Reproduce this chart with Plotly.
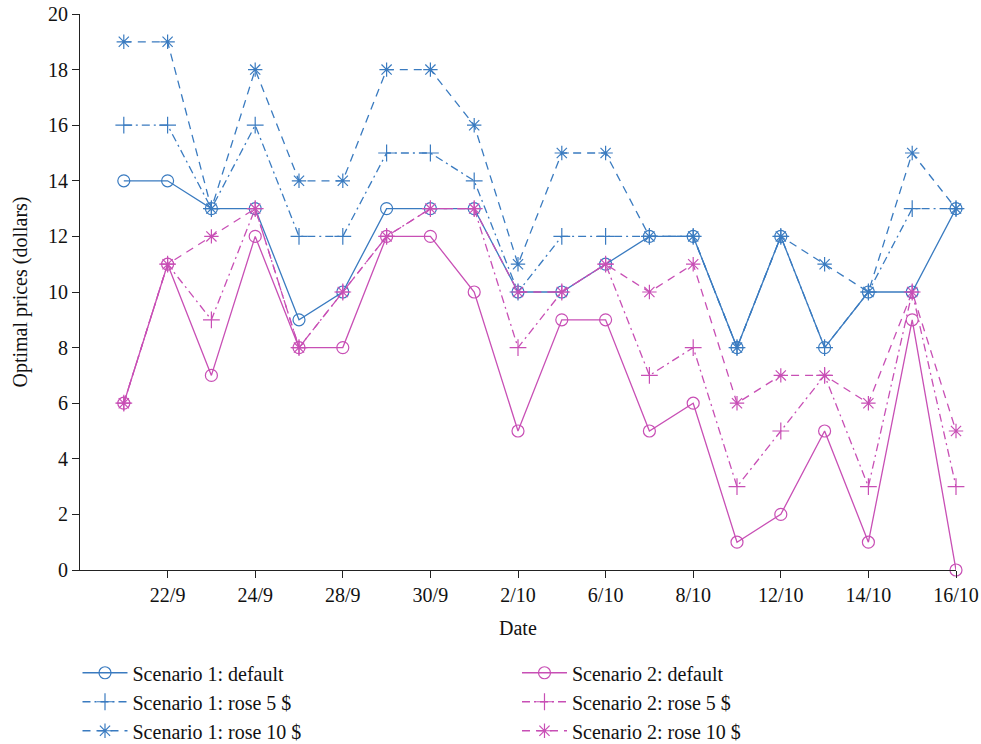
import plotly.graph_objects as go

# Dates (one observation per day shown on the x axis; every other date labelled)
positions = list(range(1, 21))
tick_positions = [2, 4, 6, 8, 10, 12, 14, 16, 18, 20]
tick_labels = ["22/9", "24/9", "28/9", "30/9", "2/10", "6/10", "8/10", "12/10", "14/10", "16/10"]

# Optimal prices (dollars)
s1_default = [14, 14, 13, 13, 9, 10, 13, 13, 13, 10, 10, 11, 12, 12, 8, 12, 8, 10, 10, 13]
s1_rose5 = [16, 16, 13, 16, 12, 12, 15, 15, 14, 10, 12, 12, 12, 12, 8, 12, 8, 10, 13, 13]
s1_rose10 = [19, 19, 13, 18, 14, 14, 18, 18, 16, 11, 15, 15, 12, 12, 8, 12, 11, 10, 15, 13]
s2_default = [6, 11, 7, 12, 8, 8, 12, 12, 10, 5, 9, 9, 5, 6, 1, 2, 5, 1, 9, 0]
s2_rose5 = [6, 11, 9, 13, 8, 10, 12, 13, 13, 8, 10, 11, 7, 8, 3, 5, 7, 3, 10, 3]
s2_rose10 = [6, 11, 12, 13, 8, 10, 12, 13, 13, 10, 10, 11, 10, 11, 6, 7, 7, 6, 10, 5]

BLUE = "#3a7bc0"
MAGENTA = "#c84fb5"
FONT = "Liberation Serif"
SIZE = 20
TEXT = "#111"

series = [
    ("Scenario 1: default", s1_default, BLUE, "solid", "circle-open", "legend"),
    ("Scenario 1: rose 5 $", s1_rose5, BLUE, "8px,4px,2px,4px", "cross-thin-open", "legend"),
    ("Scenario 1: rose 10 $", s1_rose10, BLUE, "8px,6px", "asterisk-open", "legend"),
    ("Scenario 2: default", s2_default, MAGENTA, "solid", "circle-open", "legend2"),
    ("Scenario 2: rose 5 $", s2_rose5, MAGENTA, "8px,4px,2px,4px", "cross-thin-open", "legend2"),
    ("Scenario 2: rose 10 $", s2_rose10, MAGENTA, "8px,6px", "asterisk-open", "legend2"),
]

fig = go.Figure()
for name, values, color, dash, symbol, legend in series:
    fig.add_trace(go.Scatter(
        x=positions, y=values, name=name, mode="lines+markers",
        line=dict(color=color, width=1.3, dash=dash),
        marker=dict(symbol=symbol, size=12, color=color, line=dict(width=1.2, color=color)),
        legend=legend, cliponaxis=False,
    ))

legend_style = dict(
    font=dict(family=FONT, size=SIZE, color=TEXT),
    bgcolor="rgba(0,0,0,0)", orientation="v",
    xref="container", yref="container",
    xanchor="left", yanchor="top", tracegroupgap=0, itemwidth=45,
)

axis_style = dict(
    showgrid=False, zeroline=False, showline=True, linecolor="#222", linewidth=1.2,
    ticks="outside", ticklen=7, tickcolor="#222", tickwidth=1.2,
    tickfont=dict(family=FONT, size=SIZE, color=TEXT),
)

fig.update_layout(
    width=981, height=744,
    margin=dict(l=80, r=25, t=14, b=174, autoexpand=False),
    paper_bgcolor="white", plot_bgcolor="white",
    font=dict(family=FONT, size=SIZE, color=TEXT),
    xaxis=dict(
        range=[0, 20], tickmode="array", tickvals=tick_positions, ticktext=tick_labels,
        **axis_style,
    ),
    yaxis=dict(
        range=[0, 20], tickmode="linear", tick0=0, dtick=2,
        **axis_style,
    ),
    legend=dict(x=0.079, y=0.122, **legend_style),
    legend2=dict(x=0.527, y=0.122, **legend_style),
    annotations=[
        dict(text="Date", xref="paper", yref="paper", x=0.5, y=-0.104,
             xanchor="center", yanchor="middle", showarrow=False,
             font=dict(family=FONT, size=SIZE, color=TEXT)),
        dict(text="Optimal prices (dollars)", xref="paper", yref="paper", x=-0.069, y=0.5,
             xanchor="center", yanchor="middle", textangle=-90, showarrow=False,
             font=dict(family=FONT, size=SIZE, color=TEXT)),
    ],
)

fig.write_html("out.html")
